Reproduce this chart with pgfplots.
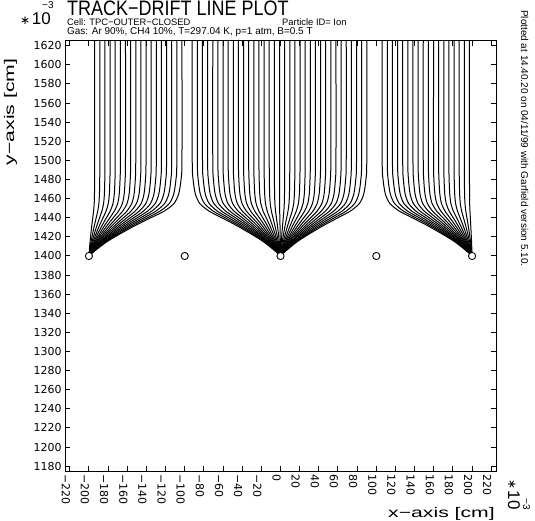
\documentclass[border=0pt]{standalone}
\usepackage{fontspec}
\setmainfont{Liberation Sans}
\newfontfamily\dv{DejaVu Sans}
\newfontfamily\widefont[FakeStretch=1.52]{Liberation Sans}
\usepackage{graphicx}
\usepackage{pgfplots}
\pgfplotsset{compat=1.18}
\begin{document}
\begin{tikzpicture}
\begin{axis}[
  at={(65bp,50bp)}, anchor=south west,
  scale only axis, width=431bp, height=430bp,
  xmin=-225, xmax=225, ymin=1175, ymax=1625,
  xtick={-220,-200,...,220},
  xticklabels={−220,−200,−180,−160,−140,−120,−100,−80,−60,−40,−20,0,20,40,60,80,100,120,140,160,180,200,220},
  ytick={1180,1200,...,1620},
  yticklabels={1180,1200,1220,1240,1260,1280,1300,1320,1340,1360,1380,1400,1420,1440,1460,1480,1500,1520,1540,1560,1580,1600,1620},
  tick align=inside, major tick length=5bp,
  axis line style={line width=1bp},
  every tick/.style={black, line width=1bp},
  xticklabel style={rotate=-90, anchor=west, yshift=-4bp, font=\dv\fontsize{11}{11}\selectfont},
  yticklabel style={anchor=east, font=\dv\fontsize{11}{11}\selectfont},
  dl/.style={black, line width=1bp, no marks, smooth, tension=0.45, line join=round},
]
% wire -200 group
\addplot[dl] coordinates {(-194,1625)(-194,1500)(-194.06,1480)(-194.21,1465)(-194.51,1455)(-195.14,1447)(-196.01,1440)(-197.0,1432)(-197.9,1424)(-198.74,1416)(-199.34,1409)(-199.73,1404)(-199.91,1401.5)};
\addplot[dl] coordinates {(-188.64,1625)(-188.64,1500)(-188.75,1480)(-189.04,1465)(-189.61,1455)(-190.8,1447)(-192.45,1440)(-194.32,1432)(-196.02,1424)(-197.61,1416)(-198.75,1409)(-199.49,1404)(-199.83,1401.5)};
\addplot[dl] coordinates {(-183.28,1625)(-183.28,1500)(-183.45,1480)(-183.87,1465)(-184.7,1455)(-186.46,1447)(-188.88,1440)(-191.64,1432)(-194.15,1424)(-196.49,1416)(-198.16,1409)(-199.25,1404)(-199.75,1401.5)};
\addplot[dl] coordinates {(-177.92,1625)(-177.92,1500)(-178.14,1480)(-178.69,1465)(-179.8,1455)(-182.12,1447)(-185.32,1440)(-188.96,1432)(-192.27,1424)(-195.36,1416)(-197.57,1409)(-199.01,1404)(-199.67,1401.5)};
\addplot[dl] coordinates {(-172.56,1625)(-172.56,1500)(-172.83,1480)(-173.52,1465)(-174.89,1455)(-177.77,1447)(-181.75,1440)(-186.28,1432)(-190.4,1424)(-194.24,1416)(-196.98,1409)(-198.77,1404)(-199.59,1401.5)};
\addplot[dl] coordinates {(-167.2,1625)(-167.2,1500)(-167.53,1480)(-168.35,1465)(-169.99,1455)(-173.43,1447)(-178.19,1440)(-183.6,1432)(-188.52,1424)(-193.11,1416)(-196.39,1409)(-198.52,1404)(-199.51,1401.5)};
\addplot[dl] coordinates {(-161.84,1625)(-161.84,1500)(-162.22,1480)(-163.18,1465)(-165.08,1455)(-169.09,1447)(-174.62,1440)(-180.92,1432)(-186.64,1424)(-191.99,1416)(-195.8,1409)(-198.28,1404)(-199.43,1401.5)};
\addplot[dl] coordinates {(-156.48,1625)(-156.48,1500)(-156.92,1480)(-158.0,1465)(-160.18,1455)(-164.75,1447)(-171.06,1440)(-178.24,1432)(-184.77,1424)(-190.86,1416)(-195.21,1409)(-198.04,1404)(-199.35,1401.5)};
\addplot[dl] coordinates {(-151.12,1625)(-151.12,1500)(-151.61,1480)(-152.83,1465)(-155.27,1455)(-160.41,1447)(-167.49,1440)(-175.56,1432)(-182.89,1424)(-189.74,1416)(-194.62,1409)(-197.8,1404)(-199.27,1401.5)};
\addplot[dl] coordinates {(-145.76,1625)(-145.76,1500)(-146.3,1480)(-147.66,1465)(-150.37,1455)(-156.07,1447)(-163.93,1440)(-172.88,1432)(-181.02,1424)(-188.61,1416)(-194.03,1409)(-197.56,1404)(-199.19,1401.5)};
\addplot[dl] coordinates {(-140.4,1625)(-140.4,1500)(-141.0,1480)(-142.49,1465)(-145.47,1455)(-151.72,1447)(-160.37,1440)(-170.2,1432)(-179.14,1424)(-187.48,1416)(-193.44,1409)(-197.32,1404)(-199.11,1401.5)};
\addplot[dl] coordinates {(-135.04,1625)(-135.04,1500)(-135.69,1480)(-137.31,1465)(-140.56,1455)(-147.38,1447)(-156.8,1440)(-167.52,1432)(-177.26,1424)(-186.36,1416)(-192.85,1409)(-197.08,1404)(-199.03,1401.5)};
\addplot[dl] coordinates {(-129.68,1625)(-129.68,1500)(-130.38,1480)(-132.14,1465)(-135.66,1455)(-143.04,1447)(-153.24,1440)(-164.84,1432)(-175.39,1424)(-185.23,1416)(-192.26,1409)(-196.84,1404)(-198.95,1401.5)};
\addplot[dl] coordinates {(-124.32,1625)(-124.32,1500)(-125.08,1480)(-126.97,1465)(-130.75,1455)(-138.7,1447)(-149.67,1440)(-162.16,1432)(-173.51,1424)(-184.11,1416)(-191.68,1409)(-196.59,1404)(-198.86,1401.5)};
\addplot[dl] coordinates {(-118.96,1625)(-118.96,1500)(-119.77,1480)(-121.8,1465)(-125.85,1455)(-134.36,1447)(-146.11,1440)(-159.48,1432)(-171.64,1424)(-182.98,1416)(-191.09,1409)(-196.35,1404)(-198.78,1401.5)};
\addplot[dl] coordinates {(-113.6,1625)(-113.6,1500)(-114.46,1480)(-116.62,1465)(-120.94,1455)(-130.02,1447)(-142.54,1440)(-156.8,1432)(-169.76,1424)(-181.86,1416)(-190.5,1409)(-196.11,1404)(-198.7,1401.5)};
\addplot[dl] coordinates {(-108.24,1625)(-108.24,1500)(-109.16,1480)(-111.45,1465)(-116.04,1455)(-125.67,1447)(-138.98,1440)(-154.12,1432)(-167.88,1424)(-180.73,1416)(-189.91,1409)(-195.87,1404)(-198.62,1401.5)};
\addplot[dl] coordinates {(-102.88,1625)(-102.88,1500)(-103.85,1480)(-106.28,1465)(-111.14,1455)(-121.33,1447)(-135.42,1440)(-151.44,1432)(-166.01,1424)(-179.6,1416)(-189.32,1409)(-195.63,1404)(-198.54,1401.5)};
% wire 0 group
\addplot[dl] coordinates {(-92.16,1625)(-92.16,1500)(-91.24,1480)(-88.93,1465)(-84.33,1455)(-74.65,1447)(-61.29,1440)(-46.08,1432)(-32.26,1424)(-19.35,1416)(-10.14,1409)(-4.15,1404)(-1.38,1401.5)};
\addplot[dl] coordinates {(-86.8,1625)(-86.8,1500)(-85.93,1480)(-83.76,1465)(-79.42,1455)(-70.31,1447)(-57.72,1440)(-43.4,1432)(-30.38,1424)(-18.23,1416)(-9.55,1409)(-3.91,1404)(-1.3,1401.5)};
\addplot[dl] coordinates {(-81.44,1625)(-81.44,1500)(-80.63,1480)(-78.59,1465)(-74.52,1455)(-65.97,1447)(-54.16,1440)(-40.72,1432)(-28.5,1424)(-17.1,1416)(-8.96,1409)(-3.66,1404)(-1.22,1401.5)};
\addplot[dl] coordinates {(-76.08,1625)(-76.08,1500)(-75.32,1480)(-73.42,1465)(-69.61,1455)(-61.62,1447)(-50.59,1440)(-38.04,1432)(-26.63,1424)(-15.98,1416)(-8.37,1409)(-3.42,1404)(-1.14,1401.5)};
\addplot[dl] coordinates {(-70.72,1625)(-70.72,1500)(-70.01,1480)(-68.24,1465)(-64.71,1455)(-57.28,1447)(-47.03,1440)(-35.36,1432)(-24.75,1424)(-14.85,1416)(-7.78,1409)(-3.18,1404)(-1.06,1401.5)};
\addplot[dl] coordinates {(-65.36,1625)(-65.36,1500)(-64.71,1480)(-63.07,1465)(-59.8,1455)(-52.94,1447)(-43.46,1440)(-32.68,1432)(-22.88,1424)(-13.73,1416)(-7.19,1409)(-2.94,1404)(-0.98,1401.5)};
\addplot[dl] coordinates {(-60,1625)(-60,1500)(-59.4,1480)(-57.9,1465)(-54.9,1455)(-48.6,1447)(-39.9,1440)(-30,1432)(-21,1424)(-12.6,1416)(-6.6,1409)(-2.7,1404)(-0.9,1401.5)};
\addplot[dl] coordinates {(-54.64,1625)(-54.64,1500)(-54.09,1480)(-52.73,1465)(-50,1455)(-44.26,1447)(-36.34,1440)(-27.32,1432)(-19.12,1424)(-11.47,1416)(-6.01,1409)(-2.46,1404)(-0.82,1401.5)};
\addplot[dl] coordinates {(-49.28,1625)(-49.28,1500)(-48.79,1480)(-47.56,1465)(-45.09,1455)(-39.92,1447)(-32.77,1440)(-24.64,1432)(-17.25,1424)(-10.35,1416)(-5.42,1409)(-2.22,1404)(-0.74,1401.5)};
\addplot[dl] coordinates {(-43.92,1625)(-43.92,1500)(-43.48,1480)(-42.38,1465)(-40.19,1455)(-35.58,1447)(-29.21,1440)(-21.96,1432)(-15.37,1424)(-9.22,1416)(-4.83,1409)(-1.98,1404)(-0.66,1401.5)};
\addplot[dl] coordinates {(-38.56,1625)(-38.56,1500)(-38.17,1480)(-37.21,1465)(-35.28,1455)(-31.23,1447)(-25.64,1440)(-19.28,1432)(-13.5,1424)(-8.1,1416)(-4.24,1409)(-1.74,1404)(-0.58,1401.5)};
\addplot[dl] coordinates {(-33.2,1625)(-33.2,1500)(-32.87,1480)(-32.04,1465)(-30.38,1455)(-26.89,1447)(-22.08,1440)(-16.6,1432)(-11.62,1424)(-6.97,1416)(-3.65,1409)(-1.49,1404)(-0.5,1401.5)};
\addplot[dl] coordinates {(-27.84,1625)(-27.84,1500)(-27.56,1480)(-26.87,1465)(-25.47,1455)(-22.55,1447)(-18.51,1440)(-13.92,1432)(-9.74,1424)(-5.85,1416)(-3.06,1409)(-1.25,1404)(-0.42,1401.5)};
\addplot[dl] coordinates {(-22.48,1625)(-22.48,1500)(-22.26,1480)(-21.69,1465)(-20.57,1455)(-18.21,1447)(-14.95,1440)(-11.24,1432)(-7.87,1424)(-4.72,1416)(-2.47,1409)(-1.01,1404)(-0.34,1401.5)};
\addplot[dl] coordinates {(-17.12,1625)(-17.12,1500)(-16.95,1480)(-16.52,1465)(-15.66,1455)(-13.87,1447)(-11.38,1440)(-8.56,1432)(-5.99,1424)(-3.6,1416)(-1.88,1409)(-0.77,1404)(-0.26,1401.5)};
\addplot[dl] coordinates {(-11.76,1625)(-11.76,1500)(-11.64,1480)(-11.35,1465)(-10.76,1455)(-9.53,1447)(-7.82,1440)(-5.88,1432)(-4.12,1424)(-2.47,1416)(-1.29,1409)(-0.53,1404)(-0.18,1401.5)};
\addplot[dl] coordinates {(-6.4,1625)(-6.4,1500)(-6.34,1480)(-6.18,1465)(-5.86,1455)(-5.18,1447)(-4.26,1440)(-3.2,1432)(-2.24,1424)(-1.34,1416)(-0.7,1409)(-0.29,1404)(-0.1,1401.5)};
\addplot[dl] coordinates {(-1.04,1625)(-1.04,1500)(-1.03,1480)(-1.0,1465)(-0.95,1455)(-0.84,1447)(-0.69,1440)(-0.52,1432)(-0.36,1424)(-0.22,1416)(-0.11,1409)(-0.05,1404)(-0.02,1401.5)};
\addplot[dl] coordinates {(4.32,1625)(4.32,1500)(4.28,1480)(4.17,1465)(3.95,1455)(3.5,1447)(2.87,1440)(2.16,1432)(1.51,1424)(0.91,1416)(0.48,1409)(0.19,1404)(0.06,1401.5)};
\addplot[dl] coordinates {(9.68,1625)(9.68,1500)(9.58,1480)(9.34,1465)(8.86,1455)(7.84,1447)(6.44,1440)(4.84,1432)(3.39,1424)(2.03,1416)(1.06,1409)(0.44,1404)(0.15,1401.5)};
\addplot[dl] coordinates {(15.04,1625)(15.04,1500)(14.89,1480)(14.51,1465)(13.76,1455)(12.18,1447)(10.0,1440)(7.52,1432)(5.26,1424)(3.16,1416)(1.65,1409)(0.68,1404)(0.23,1401.5)};
\addplot[dl] coordinates {(20.4,1625)(20.4,1500)(20.2,1480)(19.69,1465)(18.67,1455)(16.52,1447)(13.57,1440)(10.2,1432)(7.14,1424)(4.28,1416)(2.24,1409)(0.92,1404)(0.31,1401.5)};
\addplot[dl] coordinates {(25.76,1625)(25.76,1500)(25.5,1480)(24.86,1465)(23.57,1455)(20.87,1447)(17.13,1440)(12.88,1432)(9.02,1424)(5.41,1416)(2.83,1409)(1.16,1404)(0.39,1401.5)};
\addplot[dl] coordinates {(31.12,1625)(31.12,1500)(30.81,1480)(30.03,1465)(28.47,1455)(25.21,1447)(20.69,1440)(15.56,1432)(10.89,1424)(6.54,1416)(3.42,1409)(1.4,1404)(0.47,1401.5)};
\addplot[dl] coordinates {(36.48,1625)(36.48,1500)(36.12,1480)(35.2,1465)(33.38,1455)(29.55,1447)(24.26,1440)(18.24,1432)(12.77,1424)(7.66,1416)(4.01,1409)(1.64,1404)(0.55,1401.5)};
\addplot[dl] coordinates {(41.84,1625)(41.84,1500)(41.42,1480)(40.38,1465)(38.28,1455)(33.89,1447)(27.82,1440)(20.92,1432)(14.64,1424)(8.79,1416)(4.6,1409)(1.88,1404)(0.63,1401.5)};
\addplot[dl] coordinates {(47.2,1625)(47.2,1500)(46.73,1480)(45.55,1465)(43.19,1455)(38.23,1447)(31.39,1440)(23.6,1432)(16.52,1424)(9.91,1416)(5.19,1409)(2.12,1404)(0.71,1401.5)};
\addplot[dl] coordinates {(52.56,1625)(52.56,1500)(52.03,1480)(50.72,1465)(48.09,1455)(42.57,1447)(34.95,1440)(26.28,1432)(18.4,1424)(11.04,1416)(5.78,1409)(2.37,1404)(0.79,1401.5)};
\addplot[dl] coordinates {(57.92,1625)(57.92,1500)(57.34,1480)(55.89,1465)(53.0,1455)(46.92,1447)(38.52,1440)(28.96,1432)(20.27,1424)(12.16,1416)(6.37,1409)(2.61,1404)(0.87,1401.5)};
\addplot[dl] coordinates {(63.28,1625)(63.28,1500)(62.65,1480)(61.07,1465)(57.9,1455)(51.26,1447)(42.08,1440)(31.64,1432)(22.15,1424)(13.29,1416)(6.96,1409)(2.85,1404)(0.95,1401.5)};
\addplot[dl] coordinates {(68.64,1625)(68.64,1500)(67.95,1480)(66.24,1465)(62.81,1455)(55.6,1447)(45.65,1440)(34.32,1432)(24.02,1424)(14.41,1416)(7.55,1409)(3.09,1404)(1.03,1401.5)};
\addplot[dl] coordinates {(74.0,1625)(74.0,1500)(73.26,1480)(71.41,1465)(67.71,1455)(59.94,1447)(49.21,1440)(37.0,1432)(25.9,1424)(15.54,1416)(8.14,1409)(3.33,1404)(1.11,1401.5)};
\addplot[dl] coordinates {(79.36,1625)(79.36,1500)(78.57,1480)(76.58,1465)(72.61,1455)(64.28,1447)(52.77,1440)(39.68,1432)(27.78,1424)(16.67,1416)(8.73,1409)(3.57,1404)(1.19,1401.5)};
\addplot[dl] coordinates {(84.72,1625)(84.72,1500)(83.87,1480)(81.75,1465)(77.52,1455)(68.62,1447)(56.34,1440)(42.36,1432)(29.65,1424)(17.79,1416)(9.32,1409)(3.81,1404)(1.27,1401.5)};
\addplot[dl] coordinates {(90.08,1625)(90.08,1500)(89.18,1480)(86.93,1465)(82.42,1455)(72.96,1447)(59.9,1440)(45.04,1432)(31.53,1424)(18.92,1416)(9.91,1409)(4.05,1404)(1.35,1401.5)};
% wire 200 group
\addplot[dl] coordinates {(106.16,1625)(106.16,1500)(107.1,1480)(109.44,1465)(114.14,1455)(123.99,1447)(137.6,1440)(153.08,1432)(167.16,1424)(180.29,1416)(189.68,1409)(195.78,1404)(198.59,1401.5)};
\addplot[dl] coordinates {(111.52,1625)(111.52,1500)(112.4,1480)(114.62,1465)(119.04,1455)(128.33,1447)(141.16,1440)(155.76,1432)(169.03,1424)(181.42,1416)(190.27,1409)(196.02,1404)(198.67,1401.5)};
\addplot[dl] coordinates {(116.88,1625)(116.88,1500)(117.71,1480)(119.79,1465)(123.95,1455)(132.67,1447)(144.73,1440)(158.44,1432)(170.91,1424)(182.54,1416)(190.86,1409)(196.26,1404)(198.75,1401.5)};
\addplot[dl] coordinates {(122.24,1625)(122.24,1500)(123.02,1480)(124.96,1465)(128.85,1455)(137.01,1447)(148.29,1440)(161.12,1432)(172.78,1424)(183.67,1416)(191.45,1409)(196.5,1404)(198.83,1401.5)};
\addplot[dl] coordinates {(127.6,1625)(127.6,1500)(128.32,1480)(130.13,1465)(133.75,1455)(141.36,1447)(151.85,1440)(163.8,1432)(174.66,1424)(184.8,1416)(192.04,1409)(196.74,1404)(198.91,1401.5)};
\addplot[dl] coordinates {(132.96,1625)(132.96,1500)(133.63,1480)(135.31,1465)(138.66,1455)(145.7,1447)(155.42,1440)(166.48,1432)(176.54,1424)(185.92,1416)(192.63,1409)(196.98,1404)(198.99,1401.5)};
\addplot[dl] coordinates {(138.32,1625)(138.32,1500)(138.94,1480)(140.48,1465)(143.56,1455)(150.04,1447)(158.98,1440)(169.16,1432)(178.41,1424)(187.05,1416)(193.22,1409)(197.22,1404)(199.07,1401.5)};
\addplot[dl] coordinates {(143.68,1625)(143.68,1500)(144.24,1480)(145.65,1465)(148.47,1455)(154.38,1447)(162.55,1440)(171.84,1432)(180.29,1424)(188.17,1416)(193.8,1409)(197.47,1404)(199.16,1401.5)};
\addplot[dl] coordinates {(149.04,1625)(149.04,1500)(149.55,1480)(150.82,1465)(153.37,1455)(158.72,1447)(166.11,1440)(174.52,1432)(182.16,1424)(189.3,1416)(194.39,1409)(197.71,1404)(199.24,1401.5)};
\addplot[dl] coordinates {(154.4,1625)(154.4,1500)(154.86,1480)(156.0,1465)(158.28,1455)(163.06,1447)(169.68,1440)(177.2,1432)(184.04,1424)(190.42,1416)(194.98,1409)(197.95,1404)(199.32,1401.5)};
\addplot[dl] coordinates {(159.76,1625)(159.76,1500)(160.16,1480)(161.17,1465)(163.18,1455)(167.41,1447)(173.24,1440)(179.88,1432)(185.92,1424)(191.55,1416)(195.57,1409)(198.19,1404)(199.4,1401.5)};
\addplot[dl] coordinates {(165.12,1625)(165.12,1500)(165.47,1480)(166.34,1465)(168.08,1455)(171.75,1447)(176.8,1440)(182.56,1432)(187.79,1424)(192.68,1416)(196.16,1409)(198.43,1404)(199.48,1401.5)};
\addplot[dl] coordinates {(170.48,1625)(170.48,1500)(170.78,1480)(171.51,1465)(172.99,1455)(176.09,1447)(180.37,1440)(185.24,1432)(189.67,1424)(193.8,1416)(196.75,1409)(198.67,1404)(199.56,1401.5)};
\addplot[dl] coordinates {(175.84,1625)(175.84,1500)(176.08,1480)(176.69,1465)(177.89,1455)(180.43,1447)(183.93,1440)(187.92,1432)(191.54,1424)(194.93,1416)(197.34,1409)(198.91,1404)(199.64,1401.5)};
\addplot[dl] coordinates {(181.2,1625)(181.2,1500)(181.39,1480)(181.86,1465)(182.8,1455)(184.77,1447)(187.5,1440)(190.6,1432)(193.42,1424)(196.05,1416)(197.93,1409)(199.15,1404)(199.72,1401.5)};
\addplot[dl] coordinates {(186.56,1625)(186.56,1500)(186.69,1480)(187.03,1465)(187.7,1455)(189.11,1447)(191.06,1440)(193.28,1432)(195.3,1424)(197.18,1416)(198.52,1409)(199.4,1404)(199.8,1401.5)};
\addplot[dl] coordinates {(191.92,1625)(191.92,1500)(192.0,1480)(192.2,1465)(192.61,1455)(193.46,1447)(194.63,1440)(195.96,1432)(197.17,1424)(198.3,1416)(199.11,1409)(199.64,1404)(199.88,1401.5)};
\addplot[dl] coordinates {(197.28,1625)(197.28,1500)(197.31,1480)(197.38,1465)(197.51,1455)(197.8,1447)(198.19,1440)(198.64,1432)(199.05,1424)(199.43,1416)(199.7,1409)(199.88,1404)(199.96,1401.5)};
% wires
\addplot[only marks, mark=*, mark size=3.6bp, mark options={fill=white, draw=black, line width=0.9bp}] coordinates {(-200,1400) (-100,1400) (0,1400) (100,1400) (200,1400)};
\end{axis}
% texts around the frame
\node[anchor=base west, inner sep=0] at (67bp,505bp) {\scalebox{0.86}[1]{\fontsize{21}{21}\selectfont TRACK−DRIFT LINE PLOT}};
\node[anchor=base west, inner sep=0] at (20bp,496bp) {{\dv\fontsize{12}{12}\selectfont ∗}\,{\fontsize{17}{17}\selectfont 10}};
\node[anchor=base west, inner sep=0] at (42bp,512bp) {\fontsize{10}{10}\selectfont −3};
\node[anchor=base west, inner sep=0] at (67bp,495bp) {\fontsize{9.4}{9.4}\selectfont Cell: TPC−OUTER−CLOSED};
\node[anchor=base west, inner sep=0] at (282bp,495bp) {\fontsize{9.4}{9.4}\selectfont Particle ID= Ion};
\node[anchor=base west, inner sep=0] at (67bp,486.5bp) {\fontsize{10}{10}\selectfont Gas: Ar 90\%, CH4 10\%, T=297.04 K, p=1 atm, B=0.5 T};
\node[rotate=90, anchor=base, inner sep=0] at (14bp,409bp) {\widefont\fontsize{14}{14}\selectfont y−axis [cm]};
\node[anchor=base east, inner sep=0] at (495bp,4bp) {\widefont\fontsize{14}{14}\selectfont x−axis [cm]};
\node[rotate=-90, anchor=base west, inner sep=0] at (508bp,42bp) {{\dv\fontsize{12}{12}\selectfont ∗}\,{\fontsize{17}{17}\selectfont 10}\hspace{-11bp}\raisebox{15bp}{\fontsize{10}{10}\selectfont −3}};
\node[rotate=-90, anchor=base west, inner sep=0] at (521bp,511bp) {\fontsize{10}{10}\selectfont Plotted at 14.40.20 on 04/11/99 with Garfield version 5.10.};
\pgfresetboundingbox
\useasboundingbox (0,0) rectangle (535bp,521bp);
\end{tikzpicture}
\end{document}
